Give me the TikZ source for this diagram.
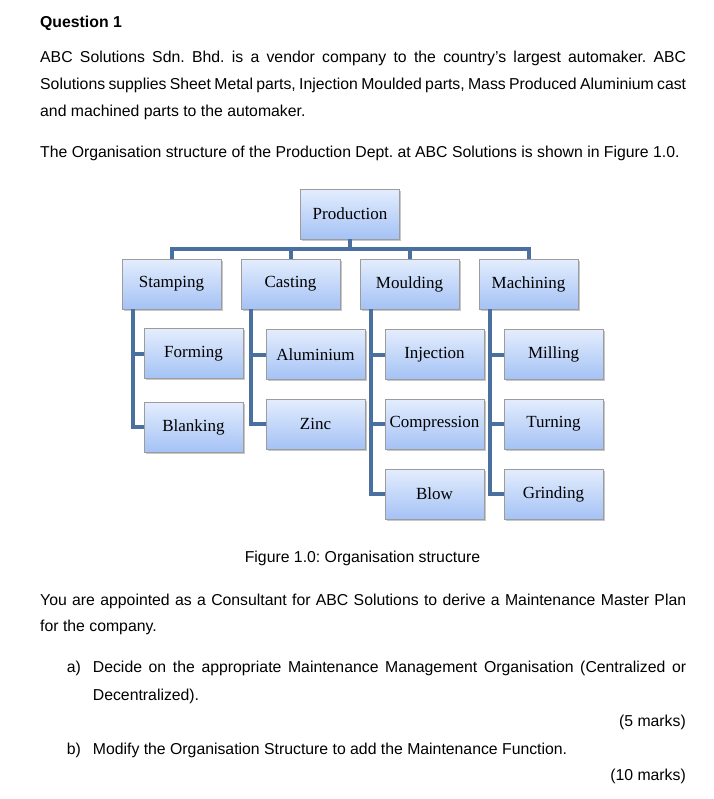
\documentclass[tikz,border=0pt]{standalone}
\usepackage{fontspec}
\setmainfont{Liberation Sans}
\newfontfamily\boxfont{Liberation Serif}
\usetikzlibrary{shadows}
\frenchspacing
\definecolor{conn}{RGB}{74,112,160}
\definecolor{boxtop}{RGB}{228,237,253}
\definecolor{boxbot}{RGB}{164,194,245}
\definecolor{boxline}{RGB}{156,156,156}
\tikzset{
  orgbox/.style={draw=boxline, line width=0.8bp, top color=boxtop, bottom color=boxbot,
    minimum width=99bp, minimum height=50bp, inner sep=0pt,
    font=\boxfont\fontsize{17bp}{20bp}\selectfont,
    drop shadow={shadow xshift=1.5bp, shadow yshift=-1.5bp, fill=black, opacity=0.22}},
  link/.style={draw=conn, line width=4bp},
  txt/.style={inner sep=0pt, anchor=base west, font=\fontsize{15.8bp}{19bp}\selectfont},
  txtr/.style={inner sep=0pt, anchor=base east, font=\fontsize{15.8bp}{19bp}\selectfont}
}
\begin{document}
\begin{tikzpicture}[x=1bp, y=-1bp]
\useasboundingbox (0,0) rectangle (714,799);
\fill[white] (0,0) rectangle (714,799);

% text
\node[txt, font=\bfseries\fontsize{15.8bp}{19bp}\selectfont] (q) at (40,27.3) {Question 1};
\node[txt] (l1) at (40,62.7) {\hbox to 646bp{ABC Solutions Sdn. Bhd. is a vendor company to the country's largest automaker. ABC}};
\node[txt] (l2) at (40,89.3) {\hbox to 646bp{Solutions supplies Sheet Metal parts, Injection Moulded parts, Mass Produced Aluminium cast}};
\node[txt] (l3) at (40,116) {and machined parts to the automaker.};
\node[txt] (l4) at (40,157.3) {The Organisation structure of the Production Dept. at ABC Solutions is shown in Figure 1.0.};

% boxes
\node[orgbox] (prod) at (350,214) {Production};
\node[orgbox] (stamp) at (171.5,284) {Stamping};
\node[orgbox] (cast) at (290.5,284) {Casting};
\node[orgbox] (mould) at (409.5,284) {Moulding};
\node[orgbox] (mach) at (528.5,284) {Machining};

\node[orgbox] (form) at (193.5,353.5) {Forming};
\node[orgbox] (blank) at (193.5,427) {Blanking};
\node[orgbox] (alu) at (315.5,354.5) {Aluminium};
\node[orgbox] (zinc) at (315.5,424) {Zinc};
\node[orgbox] (inj) at (434.5,354.5) {Injection};
\node[orgbox] (comp) at (434.5,424) {Compression};
\node[orgbox] (blow) at (434.5,494) {Blow};
\node[orgbox] (mill) at (553.5,354.5) {Milling};
\node[orgbox] (turn) at (553.5,424) {Turning};
\node[orgbox] (grind) at (553.5,494) {Grinding};

% connectors
\coordinate (bar) at ([yshift=-10bp]prod.south);
\draw[link] (prod.south) -- (bar);
\draw[link] (bar) -| (stamp.north);
\draw[link] (bar) -| (cast.north);
\draw[link] (bar) -| (mould.north);
\draw[link] (bar) -| (mach.north);

\coordinate (tst) at ([xshift=11bp]stamp.south west);
\coordinate (tca) at ([xshift=10.5bp]cast.south west);
\coordinate (tmo) at ([xshift=11bp]mould.south west);
\coordinate (tma) at ([xshift=11.5bp]mach.south west);
\draw[link] (tst) |- (form.west);
\draw[link] (tst) |- (blank.west);
\draw[link] (tca) |- (alu.west);
\draw[link] (tca) |- (zinc.west);
\draw[link] (tmo) |- (inj.west);
\draw[link] (tmo) |- (comp.west);
\draw[link] (tmo) |- (blow.west);
\draw[link] (tma) |- (mill.west);
\draw[link] (tma) |- (turn.west);
\draw[link] (tma) |- (grind.west);

% lower text
\node[inner sep=0pt, anchor=base, font=\fontsize{15.8bp}{19bp}\selectfont] (cap) at (362.5,562.7) {Figure 1.0: Organisation structure};
\node[txt] (l5) at (40,605) {\hbox to 646bp{You are appointed as a Consultant for ABC Solutions to derive a Maintenance Master Plan}};
\node[txt] (l6) at (40,631.7) {for the company.};
\node[txt] (a) at (66.7,672.7) {a)};
\node[txt] (a1) at (92.7,672.7) {\hbox to 593.3bp{Decide on the appropriate Maintenance Management Organisation (Centralized or}};
\node[txt] (a2) at (92.7,700) {Decentralized).};
\node[txtr] (m5) at (686,726.7) {(5 marks)};
\node[txt] (b) at (66.7,754) {b)};
\node[txt] (b1) at (92.7,754) {Modify the Organisation Structure to add the Maintenance Function.};
\node[txtr] (m10) at (686,780.7) {(10 marks)};
\end{tikzpicture}
\end{document}
